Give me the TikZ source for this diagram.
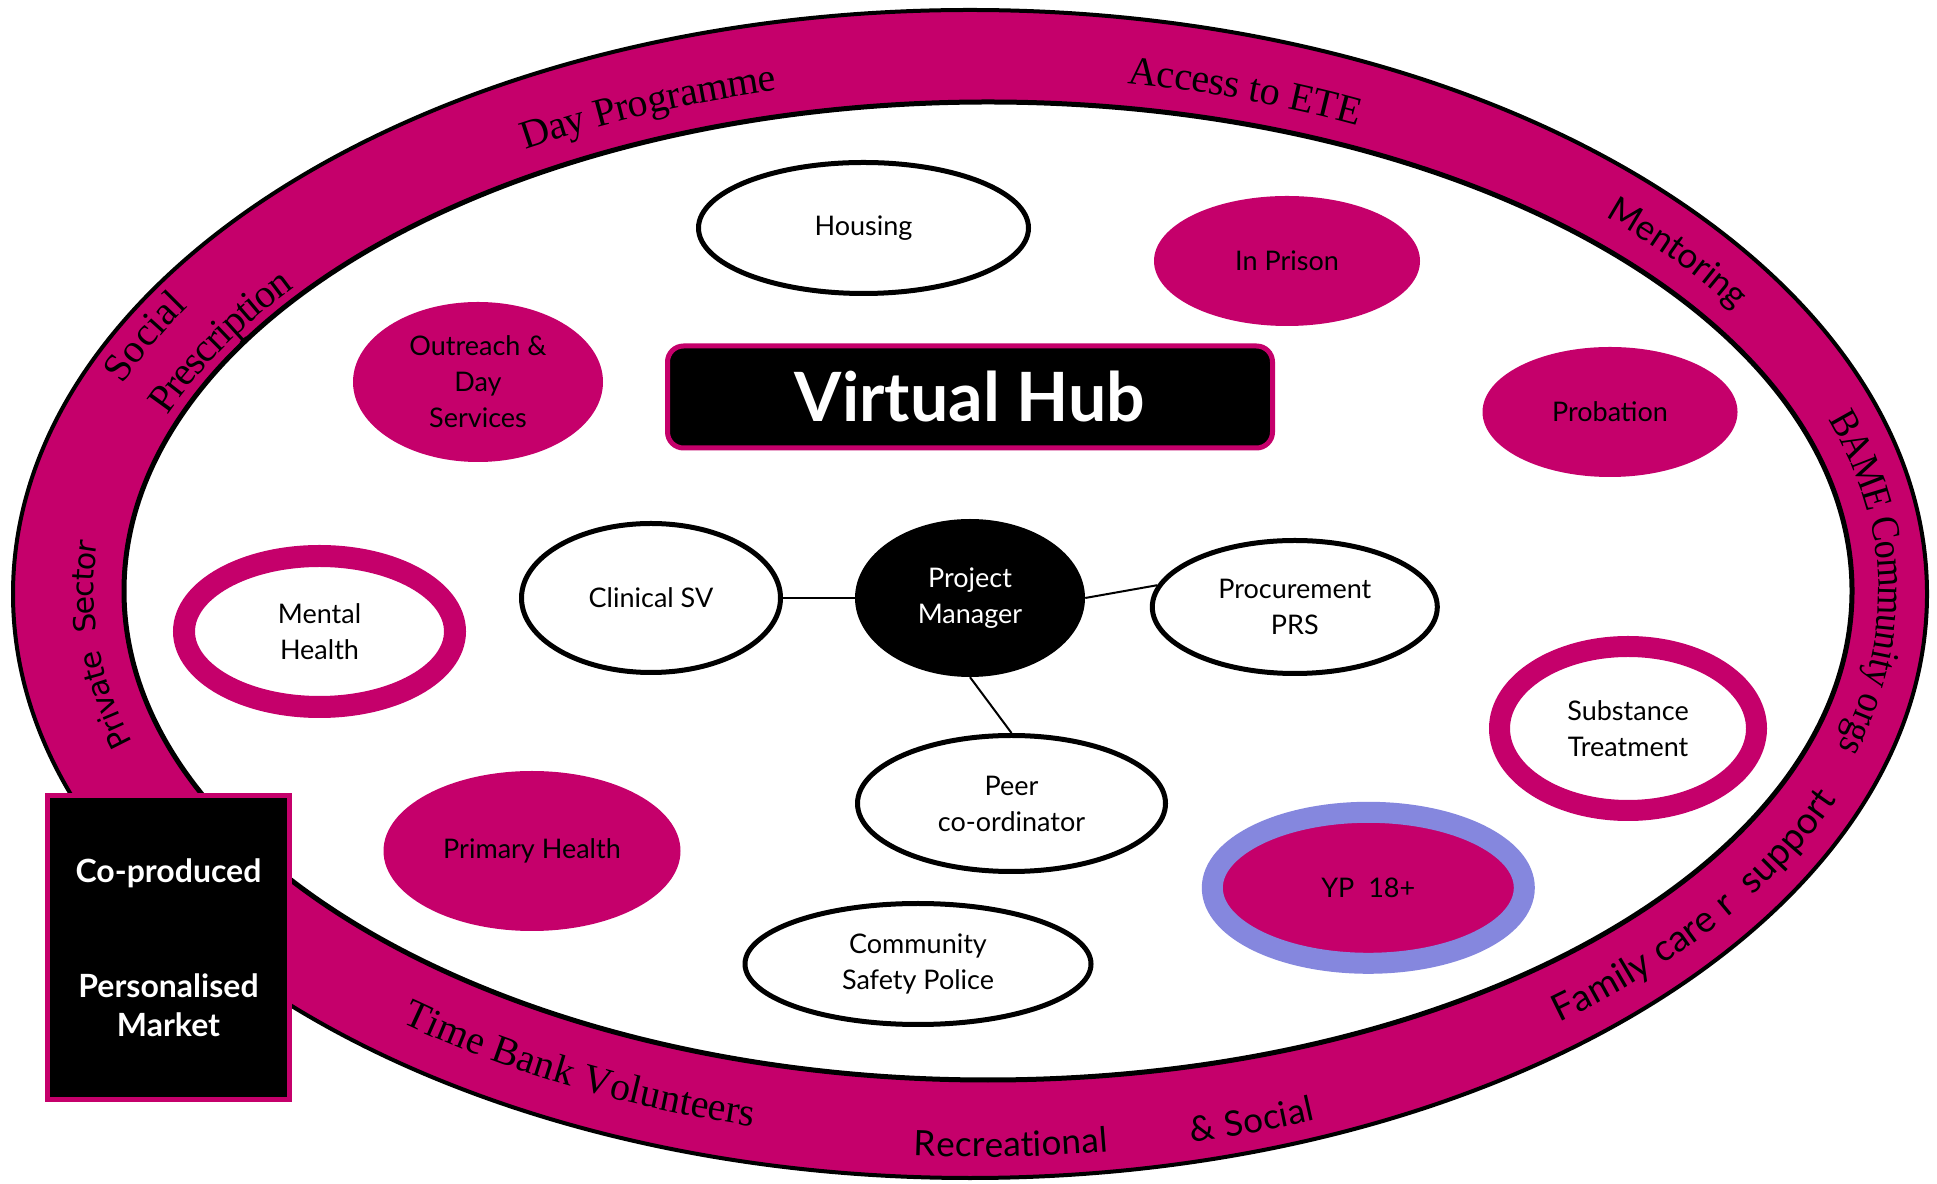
\documentclass[tikz,border=0pt]{standalone}
\usepackage{fontspec}
\setmainfont{Lato}
\newfontfamily\ringserif{Liberation Serif}
\newfontfamily\ringserifnarrow[FakeStretch=0.9]{Liberation Serif}
\newfontfamily\ringsans{Lato}
\newfontfamily\sectorfamily{DejaVu Sans}
\usetikzlibrary{shapes.geometric,decorations.text}

\definecolor{ringpink}{RGB}{197,0,107}
\definecolor{ypblue}{RGB}{133,135,222}

% fonts used on the ring and in the bubbles
\newcommand\serifring{\ringserif\fontsize{40pt}{44pt}\selectfont}
\newcommand\serifnarrow{\ringserifnarrow\fontsize{40pt}{44pt}\selectfont}
\newcommand\sansring{\ringsans\fontsize{35pt}{40pt}\selectfont}
\newcommand\sansringbig{\ringsans\fontsize{37pt}{40pt}\selectfont}
\newcommand\sectorring{\sectorfamily\fontsize{30pt}{32pt}\selectfont}
\newcommand\nodefont{\fontsize{27pt}{36pt}\selectfont}

% text set along the middle line of the ring (an elliptical arc)
\newcommand\ringlabel[4]{%
  \path[decorate, decoration={text along path, text align=center,
        raise=#3pt, text={#4}}]
    (#1:911.5pt and 537.5pt)
    arc[start angle=#1, end angle=#2, x radius=911.5pt, y radius=537.5pt];}

\tikzset{
  bubble/.style={ellipse, inner sep=0pt, align=center, font=\nodefont},
  pinknode/.style={bubble, fill=ringpink},
  plainnode/.style={bubble, fill=white, draw=black, line width=5pt},
  ringnode/.style={bubble, fill=white, draw=ringpink},
  pmnode/.style={bubble, fill=black, text=white},
  hubbox/.style={rectangle, rounded corners=16pt, fill=black, draw=ringpink,
    line width=5pt, text=white, font=\bfseries\fontsize{68pt}{70pt}\selectfont},
  sidebox/.style={rectangle, fill=black, draw=ringpink, line width=5pt,
    text=white, align=center, font=\bfseries\fontsize{32pt}{39pt}\selectfont},
  link/.style={line width=2pt}
}

\begin{document}
\begin{tikzpicture}[x=1pt,y=1pt]
\useasboundingbox (0,0) rectangle (1937,1183);

% the ring
\draw[fill=ringpink, line width=4pt] (970,589) ellipse [x radius=957pt, y radius=584pt];
\draw[fill=white, line width=5pt] (988,592) ellipse [x radius=864pt, y radius=489pt];

% labels on the ring
\begin{scope}[shift={(979,590.5)}]
  \ringlabel{127}{97}{-22}{|\serifring|Day Programme}
  \ringlabel{87.5}{57.5}{-21}{|\serifring|Access to ETE}
  \ringlabel{51.5}{26.5}{-13}{|\sansring|Mentoring}
  \ringlabel{25}{-23}{-12}{|\serifnarrow|BAME Community orgs}
  \ringlabel{-55.5}{-15.5}{-14}{|\sansringbig|Family care r{\hspace{10pt}} support}
  \ringlabel{262}{282}{-27}{|\sansring|Recreational}
  \ringlabel{277.4}{297.4}{-27}{|\sansring|{\&} Social}
  \ringlabel{222.8}{262.8}{-13}{|\serifring|Time Bank Volunteers}
  \ringlabel{203.6}{167.6}{-26}{|\sectorring|Private{\hspace{12pt}} Sector}
  \ringlabel{169.5}{139.5}{13}{|\serifring|Social}
  \ringlabel{165.25}{135.25}{-41}{|\serifring|Prescription}
\end{scope}

% services around the hub
\node[plainnode, minimum width=330pt, minimum height=131pt] (housing) at (863.5,955) {Housing};
\node[pinknode, minimum width=266pt, minimum height=130pt] (prison) at (1287,922) {In Prison};
\node[pinknode, minimum width=250pt, minimum height=160pt] (outreach) at (478,801) {Outreach \&\\Day\\Services};
\node[pinknode, minimum width=255pt, minimum height=130pt] (probation) at (1610,771) {Probation};
\node[hubbox, minimum width=605pt, minimum height=102pt] (hub) at (970,786) {Virtual Hub};
\node[ringnode, line width=22pt, minimum width=271pt, minimum height=151pt] (mental) at (319.5,551.5) {Mental\\Health};
\node[plainnode, minimum width=259pt, minimum height=149pt] (clinical) at (651,585) {Clinical SV};
\node[pmnode, minimum width=230pt, minimum height=158pt] (pm) at (970,585) {Project\\Manager};
\node[plainnode, minimum width=285pt, minimum height=133pt] (proc) at (1294.8,576) {Procurement\\PRS};
\node[ringnode, line width=21pt, minimum width=257pt, minimum height=164pt] (subst) at (1628,454.5) {Substance\\Treatment};
\node[plainnode, minimum width=308pt, minimum height=136pt] (peer) at (1011.5,379.5) {Peer\\co-ordinator};
\node[pinknode, minimum width=297pt, minimum height=160pt] (primary) at (532,332) {Primary Health};
\node[pinknode, draw=ypblue, line width=21pt, minimum width=312pt, minimum height=151pt] (yp) at (1368.3,295.2) {YP~~18+};
\node[plainnode, minimum width=346pt, minimum height=121pt] (community) at (918,219) {Community\\Safety Police};

% links from the project manager
\draw[link] (clinical.east) -- (pm.west);
\draw[link] (pm.east) -- (proc.171);
\draw[link] (pm.south) -- (peer.north);

% side panel
\node[sidebox, minimum width=242pt, minimum height=304pt] (copro) at (168.5,235.5)
  {Co-produced\\[76pt]Personalised\\Market};
\end{tikzpicture}
\end{document}
